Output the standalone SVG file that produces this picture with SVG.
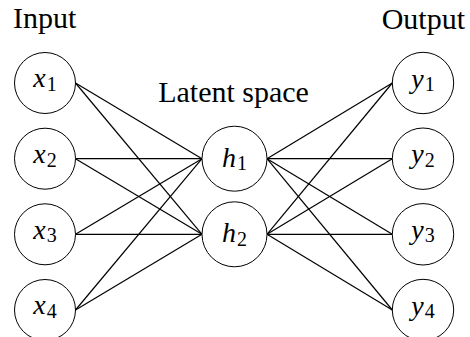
<svg xmlns="http://www.w3.org/2000/svg" width="470" height="337" viewBox="0 0 470 337" font-family="Liberation Serif">
<rect width="470" height="337" fill="#fff"/>
<g id="connectors" stroke="#000" stroke-width="1.2">
<line x1="75.5" y1="83" x2="202" y2="158.7"/>
<line x1="75.5" y1="83" x2="202" y2="234.3"/>
<line x1="75.5" y1="158.7" x2="202" y2="158.7"/>
<line x1="75.5" y1="158.7" x2="202" y2="234.3"/>
<line x1="75.5" y1="234.3" x2="202" y2="158.7"/>
<line x1="75.5" y1="234.3" x2="202" y2="234.3"/>
<line x1="75.5" y1="310" x2="202" y2="158.7"/>
<line x1="75.5" y1="310" x2="202" y2="234.3"/>
<line x1="267" y1="158.7" x2="392.3" y2="83"/>
<line x1="267" y1="158.7" x2="392.3" y2="158.7"/>
<line x1="267" y1="158.7" x2="392.3" y2="234.3"/>
<line x1="267" y1="158.7" x2="392.3" y2="310"/>
<line x1="267" y1="234.3" x2="392.3" y2="83"/>
<line x1="267" y1="234.3" x2="392.3" y2="158.7"/>
<line x1="267" y1="234.3" x2="392.3" y2="234.3"/>
<line x1="267" y1="234.3" x2="392.3" y2="310"/>
</g>
<g id="labels">
<text x="13" y="28.3" style="font-family:'Liberation Serif'" font-family="Liberation Serif" font-size="30">Input</text>
<text x="158.2" y="101.7" style="font-family:'Liberation Serif'" font-family="Liberation Serif" font-size="30">Latent space</text>
<text x="381.7" y="29" style="font-family:'Liberation Serif'" font-family="Liberation Serif" font-size="30">Output</text>
</g>
<g id="x1"><circle fill="#fff" stroke="#000" cx="45" cy="83" r="30.5"/><text x="33.3" y="87.3" style="font-family:'Liberation Serif'" font-size="28" font-style="italic">x</text><text x="46.7" y="90.8" style="font-family:'Liberation Serif'" font-size="20">1</text></g>
<g id="x2"><circle fill="#fff" stroke="#000" cx="45" cy="158.7" r="30.5"/><text x="33.3" y="163" style="font-family:'Liberation Serif'" font-size="28" font-style="italic">x</text><text x="46.7" y="166.5" style="font-family:'Liberation Serif'" font-size="20">2</text></g>
<g id="x3"><circle fill="#fff" stroke="#000" cx="45" cy="234.3" r="30.5"/><text x="33.3" y="238.6" style="font-family:'Liberation Serif'" font-size="28" font-style="italic">x</text><text x="46.7" y="242.1" style="font-family:'Liberation Serif'" font-size="20">3</text></g>
<g id="x4"><circle fill="#fff" stroke="#000" cx="45" cy="310" r="30.5"/><text x="33.3" y="314.3" style="font-family:'Liberation Serif'" font-size="28" font-style="italic">x</text><text x="46.7" y="317.8" style="font-family:'Liberation Serif'" font-size="20">4</text></g>
<g id="h1"><circle fill="#fff" stroke="#000" cx="234.5" cy="158.7" r="32.5"/><text x="222" y="166.5" style="font-family:'Liberation Serif'" font-size="28" font-style="italic">h</text><text x="237" y="170" style="font-family:'Liberation Serif'" font-size="20">1</text></g>
<g id="h2"><circle fill="#fff" stroke="#000" cx="234.5" cy="234.3" r="32.5"/><text x="222" y="242.1" style="font-family:'Liberation Serif'" font-size="28" font-style="italic">h</text><text x="237" y="245.6" style="font-family:'Liberation Serif'" font-size="20">2</text></g>
<g id="y1"><circle fill="#fff" stroke="#000" cx="423" cy="83" r="30.7"/><text x="411.3" y="87.5" style="font-family:'Liberation Serif'" font-size="28" font-style="italic">y</text><text x="424.7" y="91" style="font-family:'Liberation Serif'" font-size="20">1</text></g>
<g id="y2"><circle fill="#fff" stroke="#000" cx="423" cy="158.7" r="30.7"/><text x="411.3" y="163.2" style="font-family:'Liberation Serif'" font-size="28" font-style="italic">y</text><text x="424.7" y="166.7" style="font-family:'Liberation Serif'" font-size="20">2</text></g>
<g id="y3"><circle fill="#fff" stroke="#000" cx="423" cy="234.3" r="30.7"/><text x="411.3" y="238.8" style="font-family:'Liberation Serif'" font-size="28" font-style="italic">y</text><text x="424.7" y="242.3" style="font-family:'Liberation Serif'" font-size="20">3</text></g>
<g id="y4"><circle fill="#fff" stroke="#000" cx="423" cy="310" r="30.7"/><text x="411.3" y="314.5" style="font-family:'Liberation Serif'" font-size="28" font-style="italic">y</text><text x="424.7" y="318" style="font-family:'Liberation Serif'" font-size="20">4</text></g>
</svg>
